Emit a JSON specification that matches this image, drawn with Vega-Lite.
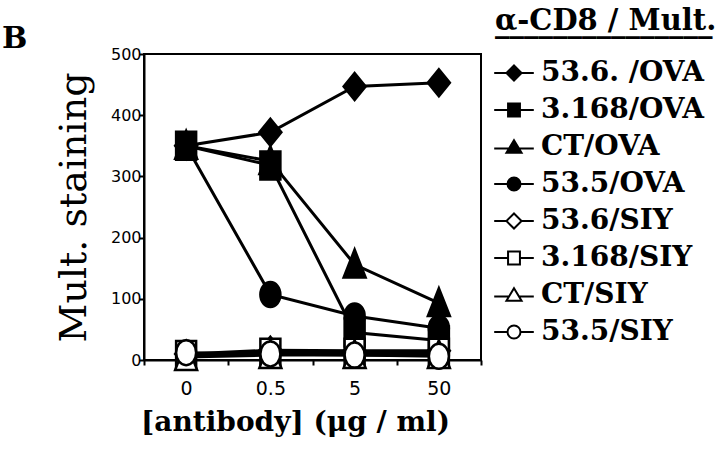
{
  "$schema": "https://vega.github.io/schema/vega-lite/v6.json",
  "width": 337,
  "height": 306,
  "autosize": {"type": "none"},
  "padding": {"left": 144, "top": 54, "right": 239, "bottom": 101},
  "background": "white",
  "title": {"text": "B", "anchor": "start", "frame": "group", "font": "DejaVu Serif", "fontWeight": "bold", "fontSize": 30, "color": "black", "dx": -142, "dy": 77, "offset": 6, "baseline": "alphabetic"},
  "data": {"values": [
    {"series": "53.6. /OVA", "conc": "0", "value": 350},
    {"series": "53.6. /OVA", "conc": "0.5", "value": 372},
    {"series": "53.6. /OVA", "conc": "5", "value": 447},
    {"series": "53.6. /OVA", "conc": "50", "value": 453},
    {"series": "3.168/OVA", "conc": "0", "value": 350},
    {"series": "3.168/OVA", "conc": "0.5", "value": 318},
    {"series": "3.168/OVA", "conc": "5", "value": 45},
    {"series": "3.168/OVA", "conc": "50", "value": 32},
    {"series": "CT/OVA", "conc": "0", "value": 350},
    {"series": "CT/OVA", "conc": "0.5", "value": 325},
    {"series": "CT/OVA", "conc": "5", "value": 156},
    {"series": "CT/OVA", "conc": "50", "value": 93},
    {"series": "53.5/OVA", "conc": "0", "value": 350},
    {"series": "53.5/OVA", "conc": "0.5", "value": 107},
    {"series": "53.5/OVA", "conc": "5", "value": 72},
    {"series": "53.5/OVA", "conc": "50", "value": 52},
    {"series": "53.6/SIY", "conc": "0", "value": 10},
    {"series": "53.6/SIY", "conc": "0.5", "value": 16},
    {"series": "53.6/SIY", "conc": "5", "value": 15},
    {"series": "53.6/SIY", "conc": "50", "value": 15},
    {"series": "3.168/SIY", "conc": "0", "value": 8},
    {"series": "3.168/SIY", "conc": "0.5", "value": 12},
    {"series": "3.168/SIY", "conc": "5", "value": 12},
    {"series": "3.168/SIY", "conc": "50", "value": 12},
    {"series": "CT/SIY", "conc": "0", "value": 5},
    {"series": "CT/SIY", "conc": "0.5", "value": 8},
    {"series": "CT/SIY", "conc": "5", "value": 8},
    {"series": "CT/SIY", "conc": "50", "value": 8},
    {"series": "53.5/SIY", "conc": "0", "value": 12},
    {"series": "53.5/SIY", "conc": "0.5", "value": 10},
    {"series": "53.5/SIY", "conc": "5", "value": 8},
    {"series": "53.5/SIY", "conc": "50", "value": 6}
  ]},
  "config": {
    "view": {"stroke": "black", "strokeWidth": 2},
    "axis": {"grid": false, "domainColor": "black", "domainWidth": 2, "tickColor": "black", "tickWidth": 2, "labelColor": "black", "titleColor": "black"},
    "legend": {"orient": "none", "legendX": 351, "legendY": -47,
               "titleFont": "DejaVu Serif", "titleFontSize": 29, "titleFontWeight": "bold", "titleColor": "black", "titlePadding": 16, "titleLimit": 400, "titleLineHeight": 2,
               "labelFont": "DejaVu Serif", "labelFontSize": 28, "labelFontWeight": "bold", "labelColor": "black", "labelLimit": 300, "labelOffset": 8,
               "symbolSize": 1296, "symbolStrokeWidth": 2, "symbolStrokeColor": "black", "rowPadding": 4}
  },
  "resolve": {"axis": {"x": "independent"}, "scale": {"shape": "independent", "fill": "independent", "stroke": "independent"}},
  "layer": [
    {
      "mark": {"type": "line", "color": "black", "strokeWidth": 3},
      "encoding": {
        "x": {"field": "conc", "type": "ordinal", "sort": ["0", "0.5", "5", "50"],
              "scale": {"type": "band", "paddingInner": 0, "paddingOuter": 0},
              "axis": {"orient": "bottom", "tickBand": "extent", "tickSize": 5, "labelPadding": 14, "labelFont": "DejaVu Sans", "labelFontSize": 19, "labelAngle": 0,
                       "title": "[antibody] (μg / ml)", "titleFont": "DejaVu Serif", "titleFontWeight": "bold", "titleFontSize": 28, "titlePadding": 10, "titleX": 151}},
        "y": {"field": "value", "type": "quantitative",
              "scale": {"domain": [0, 500], "nice": false},
              "axis": {"values": [0, 50, 100, 150, 200, 250, 300, 350, 400, 450, 500],
                       "labelExpr": "datum.value % 100 === 0 ? datum.label : ''",
                       "tickSize": 5, "labelPadding": -2, "labelFont": "DejaVu Sans", "labelFontSize": 16,
                       "title": "Mult. staining", "titleFont": "DejaVu Serif", "titleFontWeight": "normal", "titleFontSize": 38, "titlePadding": 17}},
        "detail": {"field": "series"}
      }
    },
    {
      "mark": {"type": "point", "stroke": "black", "strokeWidth": 2.5, "size": 400, "opacity": 1},
      "encoding": {
        "x": {"field": "conc", "type": "ordinal", "sort": ["0", "0.5", "5", "50"],
              "axis": {"orient": "bottom", "labels": false, "domain": false, "tickSize": 5, "title": null}},
        "y": {"field": "value", "type": "quantitative"},
        "shape": {"field": "series", "type": "nominal",
                  "scale": {"domain": ["53.6. /OVA", "3.168/OVA", "CT/OVA", "53.5/OVA", "53.6/SIY", "3.168/SIY", "CT/SIY", "53.5/SIY"],
                            "range": ["M0,-1.35L1.1,0L0,1.35L-1.1,0Z", "M-1,-1.4H1V1.4H-1Z", "M0,-1.5L1.1,1.3H-1.1Z", "M-1,0A1,1.25 0 1,1 1,0A1,1.25 0 1,1 -1,0Z",
                                      "M0,-1.35L1.1,0L0,1.35L-1.1,0Z", "M-1,-1.4H1V1.4H-1Z", "M0,-1.5L1.1,1.3H-1.1Z", "M-1,0A1,1.25 0 1,1 1,0A1,1.25 0 1,1 -1,0Z"]},
                  "legend": null},
        "fill": {"field": "series", "type": "nominal",
                 "scale": {"domain": ["53.6. /OVA", "3.168/OVA", "CT/OVA", "53.5/OVA", "53.6/SIY", "3.168/SIY", "CT/SIY", "53.5/SIY"],
                           "range": ["black", "black", "black", "black", "white", "white", "white", "white"]},
                 "legend": null}
      }
    },
    {
      "transform": [{"filter": "false"}],
      "mark": {"type": "point", "strokeWidth": 2, "size": 1296, "opacity": 1},
      "encoding": {
        "shape": {"field": "series", "type": "nominal",
                  "scale": {"domain": ["53.6. /OVA", "3.168/OVA", "CT/OVA", "53.5/OVA", "53.6/SIY", "3.168/SIY", "CT/SIY", "53.5/SIY"],
                            "range": ["M-1.1,0H-0.42M0.42,0H1.1M0,-0.42L0.42,0L0,0.42L-0.42,0Z", "M-1.1,0H-0.33M0.33,0H1.1M-0.33,-0.36H0.33V0.36H-0.33Z", "M-1.1,0.08H-0.3M0.3,0.08H1.1M0,-0.38L0.42,0.32H-0.42Z", "M-1.1,0H-0.36M0.36,0H1.1M-0.36,0A0.36,0.36 0 1,1 0.36,0A0.36,0.36 0 1,1 -0.36,0Z",
                                      "M-1.1,0H-0.42M0.42,0H1.1M0,-0.42L0.42,0L0,0.42L-0.42,0Z", "M-1.1,0H-0.33M0.33,0H1.1M-0.33,-0.36H0.33V0.36H-0.33Z", "M-1.1,0.08H-0.3M0.3,0.08H1.1M0,-0.38L0.42,0.32H-0.42Z", "M-1.1,0H-0.36M0.36,0H1.1M-0.36,0A0.36,0.36 0 1,1 0.36,0A0.36,0.36 0 1,1 -0.36,0Z"]},
                  "legend": {"title": ["α-CD8 / Mult.", "_______________"]}},
        "fill": {"field": "series", "type": "nominal",
                 "scale": {"domain": ["53.6. /OVA", "3.168/OVA", "CT/OVA", "53.5/OVA", "53.6/SIY", "3.168/SIY", "CT/SIY", "53.5/SIY"],
                           "range": ["black", "black", "black", "black", "white", "white", "white", "white"]},
                 "legend": {"title": ["α-CD8 / Mult.", "_______________"]}},
        "stroke": {"field": "series", "type": "nominal",
                   "scale": {"domain": ["53.6. /OVA", "3.168/OVA", "CT/OVA", "53.5/OVA", "53.6/SIY", "3.168/SIY", "CT/SIY", "53.5/SIY"],
                             "range": ["black", "black", "black", "black", "black", "black", "black", "black"]},
                   "legend": {"title": ["α-CD8 / Mult.", "_______________"]}}
      }
    }
  ]
}
